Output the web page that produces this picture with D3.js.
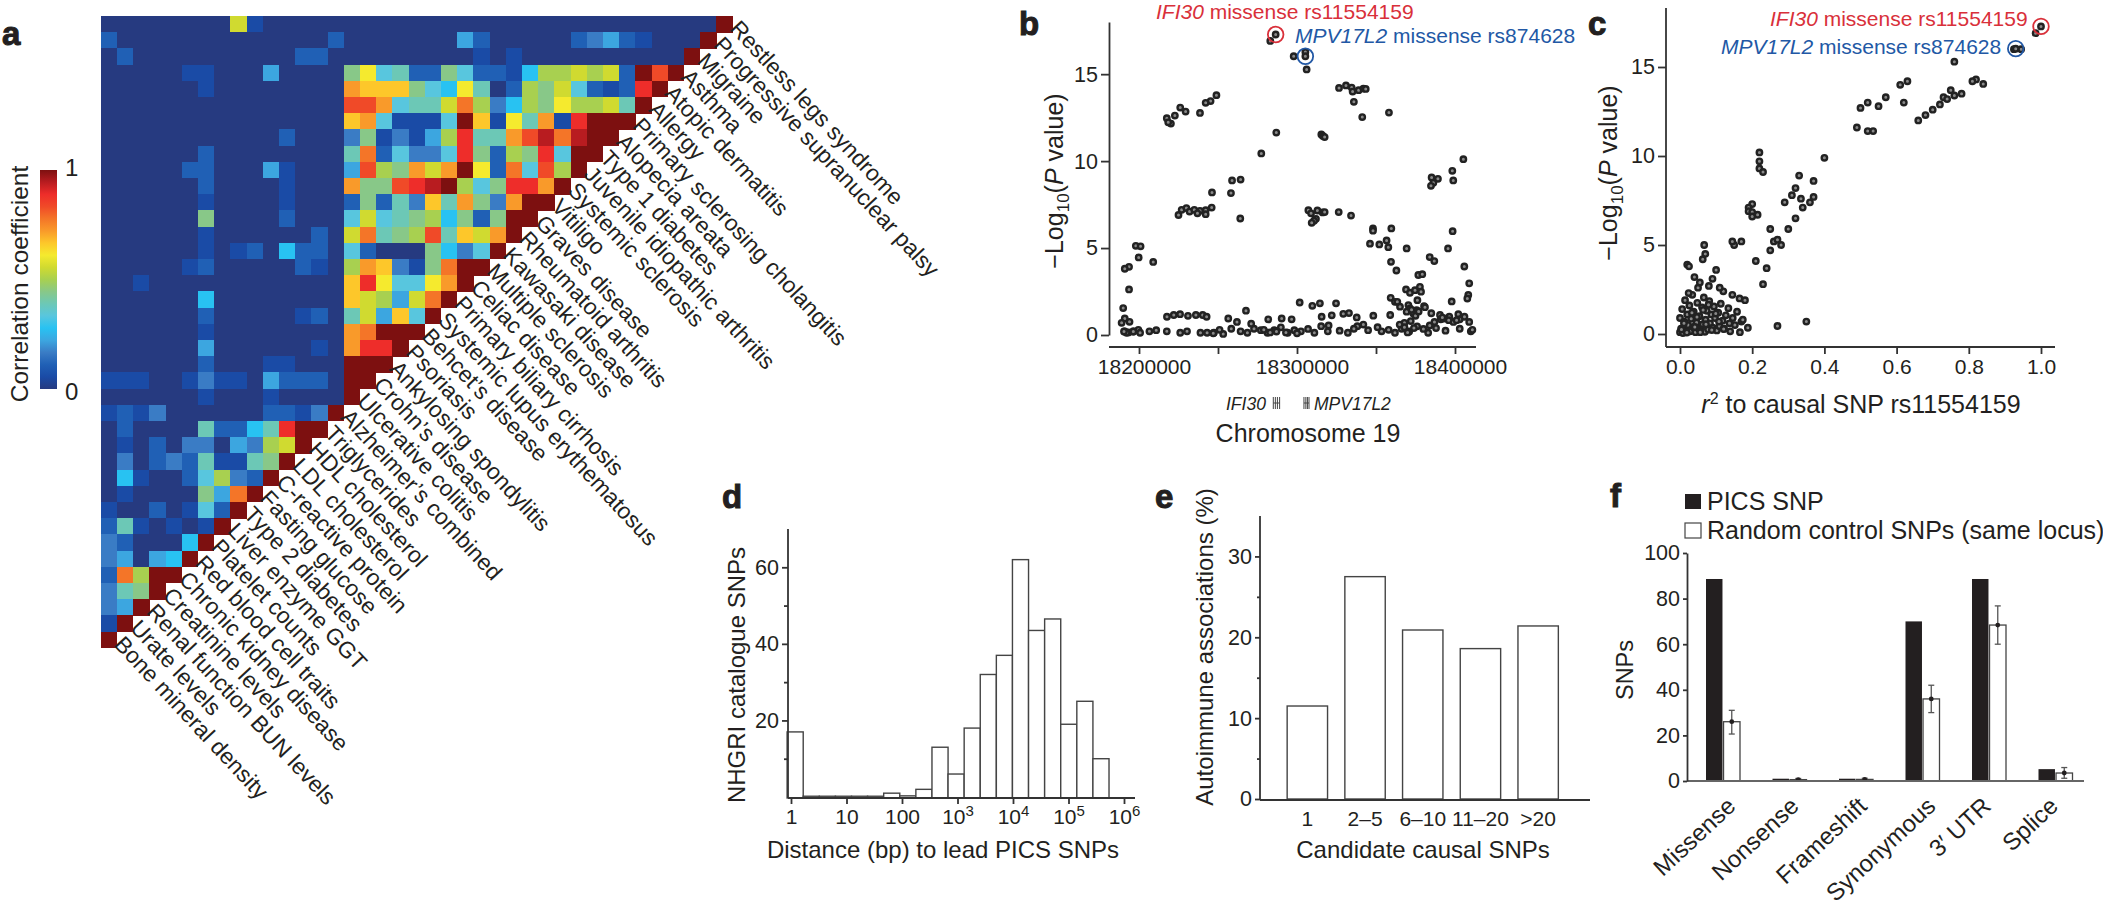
<!DOCTYPE html>
<html>
<head>
<meta charset="utf-8">
<script src="https://cdn.jsdelivr.net/npm/d3@7"></script>
<style>
  body { margin: 0; background: #fff; }
  text { font-family: "Liberation Sans", Arial, sans-serif; fill: #231f20; }
  .domain, .tick line { stroke: #333; }
</style>
</head>
<body>
<div id="chart"></div>
<script>
(function(d3) {
  'use strict';

  // panel a, one string per row, one base-19 digit per cell (0 = navy, i = dark red)
  var diseases = ['Restless legs syndrome', 'Progressive supranuclear palsy', 'Migraine', 'Asthma',
    'Atopic dermatitis', 'Allergy', 'Primary sclerosing cholangitis', 'Alopecia areata', 'Type 1 diabetes',
    'Juvenile idiopathic arthritis', 'Systemic sclerosis', 'Vitiligo', 'Graves disease', 'Rheumatoid arthritis',
    'Kawasaki disease', 'Multiple sclerosis', 'Celiac disease', 'Primary biliary cirrhosis',
    'Systemic lupus erythematosus', 'Behcet\u2019s disease', 'Psoriasis', 'Ankylosing spondylitis',
    'Crohn\u2019s disease', 'Ulcerative colitis', 'Alzheimer\u2019s combined', 'Triglycerides', 'HDL cholesterol',
    'LDL cholesterol', 'C-reactive protein', 'Fasting glucose', 'Type 2 diabetes', 'Liver enzyme GGT',
    'Platelet counts', 'Red blood cell traits', 'Chronic kidney disease', 'Creatinine levels',
    'Renal function BUN levels', 'Urate levels', 'Bone mineral density'];

  var corrRows = [
    '00000000a10000000000000000000000000000i',
    '2000000000000020000000420000023421000i',
    '020000000000220000000001010000000000i',
    '000001100040000' + '8b672286221599a9a2ifi',
    '000000100000000' + 'dccc865b70298a6212gi',
    '000000000000000' + 'ffd677ae93598b99a7i',
    '000000000000000' + 'cd61116ic1b7d1giii',
    '000000000002000' + '3813149g77dfhehii',
    '000000200000000' + '7e26336g8298g6ii',
    '000002200041000' + '4f98dadib2e6f9i',
    '000000200001000' + 'd88fghi968ggdi',
    '000000100001000' + '28273c7d83dii',
    '000000800002000' + '6a67895828ii',
    '000000100000020' + 'ae789f7cadi',
    '000000101205220' + '620008536i',
    '000001200000210' + '9dc318eii',
    '001000000000000' + 'cgb66bdi',
    '000000500000000' + 'ca94aei',
    '000000200000120' + '7a4c6i',
    '000000100000000' + 'deiii',
    '000000400000010' + 'dggi',
    '000000200011000' + 'iii',
    '111001311042220' + 'ii',
    '000000100010000' + 'i',
    '12130000002213i',
    '02000072257gii',
    '01020330439ai',
    '03023271178i',
    '0510026932i',
    '01000084ei',
    '10020162i',
    '2710101i',
    '320005i',
    '34045i',
    '2e9ii',
    '378i',
    '34i',
    '1i',
    'i'
  ];
  var corrPalette = ['#263a80', '#1a4ba6', '#2060b5', '#3a7cc5', '#3ca6e0', '#28c2f2', '#58c6de', '#6cc8b6',
    '#88c888', '#a8d050', '#d0da30', '#f5ea2e', '#fdc72a', '#f99a2a', '#f47528', '#f04a28', '#ee2d2a',
    '#b81c20', '#7d1010'];

  // panel b, position in kb on chromosome 19 and -log10 P
  var bPos = [18283.1,18297.9,18305.3,18306.1,18326.6,18331,18334.6,18335.2,18339,18342,18343.5,18336,18341.3,18358.2,
    18249,18245.3,18242.2,18238.6,18226.1,18229.5,18217.6,18220.2,18222.7,18218.5,18286.9,18315.4,18316.4,18317.5,
    18277.4,18405.3,18398.3,18398.9,18385.2,18389.2,18386.3,18384.8,18258.9,18264.3,18246.2,18258.2,18246,18242.2,
    18238.6,18242.2,18264.1,18225,18227,18230,18232,18235,18237,18307.2,18308.9,18312.9,18316.2,18317.5,18326.4,
    18334.2,18312,18310.8,18309.3,18348.1,18348.1,18359.7,18398.5,18395.6,18346.2,18352.1,18356.7,18357.8,18369.4,
    18384,18386.9,18359.5,18362.9,18405.9,18409,18376.8,18379.3,18369,18371.5,18374.7,18377.8,18378.5,18408.4,
    18407.8,18359.3,18397.9,18362,18363.5,18365.2,18376.2,18380.4,18370.5,18371.5,18375.7,18369.4,18373.6,18301.7,
    18309.7,18314.5,18324.7,18267.7,18329.3,18332.9,18322,18315.6,18337.8,18348.3,18359,18402.1,18390.5,18396.4,
    18240.3,18242.8,18256.5,18281.8,18290.3,18296.6,18198,18199.8,18193.7,18191,18193.7,18190,18191,18194,18191,
    18193.3,18196.4,18199.6,18201,18209,18217.7,18222,18226,18231,18236,18192.2,18196.4,18200.7,18206.6,18210.9,
    18217.6,18226.1,18230.4,18238.9,18243.1,18247.4,18253.3,18258.4,18264.3,18268.6,18272.8,18277.1,18281.3,18285.6,
    18289.8,18294.1,18298.3,18302.5,18311,18315.3,18319.5,18332.2,18338.2,18345,18353.5,18362,18366.2,18383,18387,
    18391,18393,18399,18403,18409,18396,18403,18410,18336,18342,18351,18358,18371,18376,18380,18384,18372,18368,
    18365,18374,18262,18271,18279,18293,18307,18320,18327,18368,18370,18372.5,18375,18377,18381,18385,18388,18392,
    18394,18401,18406,18411,18189,18190.5,18247,18251,18283,18287,18300];
  var bLogP = [16.91,16.03,16.28,15.27,14.21,14.35,14.23,14,14.08,14.17,14.15,13.41,12.53,12.79,13.79,13.45,13.35,12.77,
    13.08,12.85,12.47,12.16,12.62,12.23,11.64,11.53,11.45,11.38,10.44,10.11,9.44,8.89,9.06,8.98,8.75,8.58,8.89,8.94,
    8.2,8.16,7.33,7.18,7.14,6.95,6.7,6.9,7.2,7.3,7.1,7.2,7,7.18,7,7.16,7.05,7.07,7.07,6.87,6.68,6.57,6.45,6.13,6,6.13,
    5.97,4.98,5.25,5.21,5.44,5.05,4.98,4.48,4.25,4.21,3.71,3.94,2.97,3.45,3.5,2.62,2.43,2.58,2.77,2.49,2.3,2.1,2.14,
    1.93,1.91,1.91,1.63,2,1.66,1.72,1.53,1.43,1.34,1.24,1.87,1.68,1.82,1.82,1.4,1.22,1.26,1.13,1.05,1.01,1.11,1.15,
    1.2,1.15,1.05,1.15,1.05,.95,.9,.95,.9,5.13,4.46,3.92,3.81,2.62,1.55,.95,.76,.2,.15,.2,.3,5.1,4.2,1.05,1.15,1.2,1.1,
    1.15,.13,.2,.13,.21,.28,.21,.13,.21,.13,.13,.13,.06,.36,.21,.13,.36,.28,.13,.28,.44,.13,.28,.21,.13,.51,.21,.13,
    .51,.28,.21,.13,.36,.13,.75,.9,.95,.75,.9,.75,.85,.36,.21,.36,.6,.45,.3,.2,.5,.35,.55,.8,.7,.6,.4,.75,.65,.3,.15,.35,
    .55,.25,.45,.15,1.45,1.1,1.35,1.6,1.25,.4,1,.25,.85,1.05,.3,.7,.2,.1,.3,.15,.2,.1,.2,.1];

  // highlighted SNPs in panels b and c
  var ifi30Pos = 18286.5, ifi30LogP = 17.28, ifi30R2 = 1.0;
  var mpvPos = 18305.3, mpvLogP = 16.03, mpvR2 = 0.93;
  var ifi30Exons = [18285, 18286.3, 18287.6, 18289];
  var mpvExons = [18304.4, 18305.6, 18306.6, 18307.6];

  // panel c, r2 to causal SNP and -log10 P
  var cR2 = [.985,.925,.945,.76,.82,.81,.84,.75,.76,.78,.73,.74,.72,.7,.68,.66,.63,.61,.62,.57,.52,.5,.55,.49,.52,.535,
    .22,.22,.22,.23,.2,.19,.19,.2,.2,.215,.25,.26,.27,.28,.25,.24,.21,.23,.17,.15,.145,.4,.37,.33,.29,.32,.34,.36,.31,
    .335,.37,.3,.32,.35,.27,.17,.02,.025,.05,.067,.07,.063,.04,.055,.1,.08,.12,.09,.145,.11,.165,.18,
    0,0,.003,.006,.008,.012,.014,.017,.02,.022,.026,.028,.031,.034,.037,.038,.043,.046,.048,.052,.054,.057,.061,.063,.066,
    .069,.071,.074,.078,.081,.083,.087,.091,.094,.097,.102,.106,.109,.113,.118,.122,.127,.134,.139,.146,.152,.158,.166,.174,.188,
    .004,.011,.019,.024,.033,.041,.047,.056,.064,.072,.079,.088,.099,.108,.121,.137];
  var cLogP = [16.9,16,16,15.3,14.3,14.2,14.05,13.7,13.4,13.5,13.3,13.2,12.9,12.6,12.3,12,14.2,14,13,13.3,13,12.7,12.8,
    11.6,11.4,11.4,10.2,9.7,9.3,9.1,7.3,7.1,6.9,6.85,6.6,6.7,5.9,5.2,5.3,5,4.7,3.7,4.1,2.8,5.2,5,5.2,9.9,8.6,8.9,7.4,8.2,
    7.1,7.4,7.8,7.6,7.7,5.9,6.5,.7,.45,.7,3.9,3.8,2.6,5,4.5,4.2,3.2,2.9,3.6,2.7,2.4,3.1,2.2,2.6,2,1.9,
    .1,.9,.3,1.4,.05,.7,1.9,.2,1.1,.5,1.6,.15,.85,2.2,.4,1.25,.1,.65,1.75,.3,1,.2,1.5,.55,2.05,
    .12,.8,1.3,.25,1.85,.6,1.1,.35,1.55,.9,.2,1.2,.45,1.7,.75,.3,1.05,1.45,.15,.9,.5,1.25,.1,.8,.35,
    .25,.6,.08,2.3,1.2,.4,.95,.1,1.35,.55,1.65,.22,1.15,.7,.28,.6];

  // panel d
  var distCounts = [17,.2,.2,.2,.2,.2,1,.3,2,13,6,18,32,37,62,43.5,46.5,19,25,10];
  var distTicks = [1, 10, 100, 1000, 10000, 100000, 1000000];
  var distTickBase = ['1', '10', '100', '10', '10', '10', '10'];
  var distTickSup = ['', '', '', '3', '4', '5', '6'];

  // panel e
  var causalBins = ['1', '2\u20135', '6\u201310', '11\u201320', '>20'];
  var autoimmunePct = [11.5, 27.5, 20.9, 18.6, 21.4];

  // panel f
  var snpClasses = ['Missense', 'Nonsense', 'Frameshift', 'Synonymous', '3\u2032 UTR', 'Splice'];
  var picsValues = [88.6, 1, 1, 70, 88.6, 5.2];
  var controlValues = [26, 0.6, 0.7, 36, 68.4, 3.5];
  var controlLow = [20.6, 0.2, 0.3, 30, 60, 1.2];
  var controlHigh = [31, 1.1, 1.2, 42, 76.8, 5.9];

  var svg = d3.select('#chart').append('svg')
    .attr('width', 2103)
    .attr('height', 907);

  var titleSize = 25;
  var tickSize = 21.5;
  var lineColor = '#333';

  function panelLetter(t, x, y) {
    svg.append('text').attr('x', x).attr('y', y).text(t)
      .style('font-size', '33px').style('font-weight', 'bold')
      .style('stroke', '#231f20').style('stroke-width', 1);
  }
  panelLetter('a', 2, 45);
  panelLetter('b', 1019, 35);
  panelLetter('c', 1588, 35);
  panelLetter('d', 722, 508);
  panelLetter('e', 1155, 508);
  panelLetter('f', 1610, 507);

  function plainText(parent, x, y, str, anchor, size) {
    return parent.append('text').attr('x', x).attr('y', y)
      .attr('text-anchor', anchor || 'middle')
      .style('font-size', (size || titleSize) + 'px')
      .text(str);
  }

  function verticalTitle(x, y, str, size) {
    return svg.append('text')
      .attr('transform', 'translate(' + x + ',' + y + ') rotate(-90)')
      .attr('text-anchor', 'middle')
      .style('font-size', (size || titleSize) + 'px')
      .text(str);
  }

  // -log10(P value) vertical title
  function logPTitle(x, y) {
    var t = verticalTitle(x, y, '');
    t.append('tspan').text('\u2212Log');
    t.append('tspan').attr('dy', 6).style('font-size', '17px').text('10');
    t.append('tspan').attr('dy', -6).text('(');
    t.append('tspan').style('font-style', 'italic').text('P');
    t.append('tspan').text(' value)');
  }

  function styleAxis(g) {
    g.selectAll('.domain').style('stroke', lineColor).style('stroke-width', 1.8);
    g.selectAll('.tick line').style('stroke', lineColor).style('stroke-width', 1.8);
    g.selectAll('text').style('font-size', tickSize + 'px').style('fill', '#231f20');
  }

  function minorAxis(axisFn, scale, values, size, x, y) {
    var g = svg.append('g').attr('transform', 'translate(' + x + ',' + y + ')');
    g.call(axisFn(scale).tickValues(values).tickSize(size).tickFormat(''));
    g.select('.domain').remove();
    g.selectAll('.tick line').style('stroke', lineColor).style('stroke-width', 1.8);
    return g;
  }

  // ---- panel a
  var cellIdx = d3.range(39);
  var xCell = d3.scaleBand().domain(cellIdx).range([100.7, 732.5]);
  var yCell = d3.scaleBand().domain(cellIdx).range([16, 647.8]);
  var corrColor = d3.scaleLinear()
    .domain(corrPalette.map(function(c, i) { return i / 18; }))
    .range(corrPalette);

  var heat = svg.append('g').attr('shape-rendering', 'crispEdges');
  corrRows.forEach(function(row, r) {
    row.split('').forEach(function(ch, c) {
      heat.append('rect')
        .attr('x', xCell(c))
        .attr('y', yCell(r))
        .attr('width', xCell.bandwidth() + 0.3)
        .attr('height', yCell.bandwidth() + 0.3)
        .attr('fill', corrColor(parseInt(ch, 19) / 18));
    });
  });

  svg.append('g').selectAll('text')
    .data(diseases)
    .enter().append('text')
    .attr('transform', function(d, r) {
      var x = xCell(38 - r) + xCell.bandwidth() + 2;
      var y = yCell(r) + yCell.bandwidth() / 2;
      return 'translate(' + x + ',' + y + ') rotate(47)';
    })
    .attr('dy', '0.35em')
    .style('font-size', '22.8px')
    .text(function(d) { return d; });

  // colour bar
  var barScale = d3.scaleLinear().domain([0, 1]).range([389, 170]);
  var grad = svg.append('defs').append('linearGradient')
    .attr('id', 'corr-grad').attr('x1', 0).attr('x2', 0).attr('y1', 1).attr('y2', 0);
  corrPalette.forEach(function(c, i) {
    grad.append('stop').attr('offset', i / 18).attr('stop-color', c);
  });
  svg.append('rect')
    .attr('x', 40).attr('y', barScale(1))
    .attr('width', 17).attr('height', barScale(0) - barScale(1))
    .attr('fill', 'url(#corr-grad)');
  plainText(svg, 65, barScale(1) + 6, '1', 'start', 24);
  plainText(svg, 65, barScale(0) + 11, '0', 'start', 24);
  verticalTitle(28, 284, 'Correlation coefficient', 24.5);

  // ---- panel b
  var bx = d3.scaleLinear().domain([18200, 18400]).range([1139, 1455]);
  var by = d3.scaleLinear().domain([0, 18]).range([335, 22]);

  var bxAxis = svg.append('g').attr('transform', 'translate(0,347)')
    .call(d3.axisBottom(bx).tickValues([18200, 18300, 18400]).tickSize(7).tickSizeOuter(0)
      .tickFormat(function(d) { return d * 1000; }));
  styleAxis(bxAxis);
  bxAxis.select('.domain').attr('d', 'M1109,0H1476');
  bxAxis.selectAll('text').attr('dx', 5).attr('dy', '0.8em').style('font-size', '21px');
  minorAxis(d3.axisBottom, bx, [18250, 18350], 7, 0, 347);

  var byAxis = svg.append('g').attr('transform', 'translate(1109,0)')
    .call(d3.axisLeft(by).tickValues([0, 5, 10, 15]).tickSize(8).tickSizeOuter(0));
  styleAxis(byAxis);

  svg.append('g').selectAll('circle')
    .data(bPos)
    .enter().append('circle')
    .attr('cx', function(d) { return bx(d); })
    .attr('cy', function(d, i) { return by(bLogP[i]); })
    .attr('r', 2.7)
    .attr('fill', '#8a8a8a')
    .attr('stroke', '#222')
    .attr('stroke-width', 2.4);

  function highlight(xs, ys, color) {
    svg.append('circle').attr('cx', xs).attr('cy', ys).attr('r', 2.7)
      .attr('fill', '#8a8a8a').attr('stroke', '#222').attr('stroke-width', 2.4);
    svg.append('circle').attr('cx', xs).attr('cy', ys).attr('r', 7.8)
      .attr('fill', 'none').attr('stroke', color).attr('stroke-width', 1.8);
  }
  var redColor = '#d9303a', blueColor = '#2258a5';
  highlight(bx(ifi30Pos), by(ifi30LogP), redColor);
  highlight(bx(mpvPos), by(mpvLogP), blueColor);

  function snpLabel(x, y, gene, rest, color) {
    var t = svg.append('text').attr('x', x).attr('y', y)
      .style('font-size', '21px');
    t.append('tspan').style('font-style', 'italic').style('fill', color).text(gene);
    t.append('tspan').style('fill', color).text(rest);
  }
  snpLabel(1156, 19, 'IFI30', ' missense rs11554159', redColor);
  snpLabel(1295, 43, 'MPV17L2', ' missense rs874628', blueColor);
  logPTitle(1063, 181);

  // gene track
  function exons(values) {
    svg.append('g').selectAll('line').data(values).enter().append('line')
      .attr('x1', function(d) { return bx(d); })
      .attr('x2', function(d) { return bx(d); })
      .attr('y1', 397).attr('y2', 409)
      .attr('stroke', '#444').attr('stroke-width', 1);
    svg.append('line')
      .attr('x1', bx(values[0])).attr('x2', bx(values[values.length - 1]))
      .attr('y1', 403).attr('y2', 403)
      .attr('stroke', '#444').attr('stroke-width', 1);
  }
  exons(ifi30Exons);
  exons(mpvExons);
  plainText(svg, 1226, 410, 'IFI30', 'start', 17.5).style('font-style', 'italic');
  plainText(svg, 1314, 410, 'MPV17L2', 'start', 17.5).style('font-style', 'italic');
  plainText(svg, 1308, 442, 'Chromosome 19');

  // ---- panel c
  var cx = d3.scaleLinear().domain([0, 1]).range([1680, 2041]);
  var cy = d3.scaleLinear().domain([0, 15]).range([334, 67]);

  var cxAxis = svg.append('g').attr('transform', 'translate(0,347)')
    .call(d3.axisBottom(cx).tickValues([0, .2, .4, .6, .8, 1]).tickSize(7).tickSizeOuter(0)
      .tickFormat(d3.format('.1f')));
  styleAxis(cxAxis);
  cxAxis.select('.domain').attr('d', 'M1666,0H2055');
  cxAxis.selectAll('text').attr('dy', '0.8em').style('font-size', '21px');

  var cyAxis = svg.append('g').attr('transform', 'translate(1666,0)')
    .call(d3.axisLeft(cy).tickValues([0, 5, 10, 15]).tickSize(8).tickSizeOuter(0));
  styleAxis(cyAxis);
  cyAxis.select('.domain').attr('d', 'M0,347V8');

  svg.append('g').selectAll('circle')
    .data(cR2)
    .enter().append('circle')
    .attr('cx', function(d) { return cx(d); })
    .attr('cy', function(d, i) { return cy(cLogP[i]); })
    .attr('r', 2.7)
    .attr('fill', '#8a8a8a')
    .attr('stroke', '#222')
    .attr('stroke-width', 2.4);
  highlight(cx(ifi30R2), cy(ifi30LogP), redColor);
  highlight(cx(mpvR2), cy(mpvLogP), blueColor);
  snpLabel(1770, 26, 'IFI30', ' missense rs11554159', redColor);
  snpLabel(1721, 54, 'MPV17L2', ' missense rs874628', blueColor);
  logPTitle(1617, 173);

  var cTitle = plainText(svg, 1861, 413, '');
  cTitle.append('tspan').style('font-style', 'italic').text('r');
  cTitle.append('tspan').attr('dy', -9).style('font-size', '16px').text('2');
  cTitle.append('tspan').attr('dy', 9).text(' to causal SNP rs11554159');

  // ---- panel d
  var dx = d3.scaleLog().domain([1, 1e6]).range([791, 1124]);
  var dy = d3.scaleLinear().domain([0, 70]).range([797, 529]);
  var binWidth = 0.29, binStart = -0.07;

  svg.append('g').selectAll('rect')
    .data(distCounts)
    .enter().append('rect')
    .attr('x', function(d, i) { return dx(Math.pow(10, binStart + i * binWidth)); })
    .attr('y', function(d) { return dy(d); })
    .attr('width', function(d, i) {
      return dx(Math.pow(10, binStart + (i + 1) * binWidth)) - dx(Math.pow(10, binStart + i * binWidth));
    })
    .attr('height', function(d) { return dy(0) - dy(d) + 1; })
    .attr('fill', '#fff')
    .attr('stroke', '#444')
    .attr('stroke-width', 1.4);

  var dxAxis = svg.append('g').attr('transform', 'translate(0,798)')
    .call(d3.axisBottom(dx).tickValues(distTicks).tickSize(6).tickSizeOuter(0).tickFormat(''));
  styleAxis(dxAxis);
  dxAxis.select('.domain').attr('d', 'M788,0H1135');
  dxAxis.selectAll('.tick').each(function(d, i) {
    var t = d3.select(this).select('text');
    t.attr('y', 26).attr('dy', 0).text(distTickBase[i]).style('font-size', '21px');
    if (distTickSup[i]) {
      t.append('tspan').attr('dy', -8).style('font-size', '15px').text(distTickSup[i]);
    }
  });

  var dyAxis = svg.append('g').attr('transform', 'translate(788,0)')
    .call(d3.axisLeft(dy).tickValues([20, 40, 60]).tickSize(6).tickSizeOuter(0));
  styleAxis(dyAxis);
  dyAxis.select('.domain').attr('d', 'M0,798V529');
  minorAxis(d3.axisLeft, dy, [10, 30, 50], 4, 788, 0);

  verticalTitle(745, 675, 'NHGRI catalogue SNPs', 24);
  plainText(svg, 943, 858, 'Distance (bp) to lead PICS SNPs', 'middle', 24);

  // ---- panel e
  var ex = d3.scaleBand().domain(causalBins).range([1278.5, 1567]).paddingInner(0.3).paddingOuter(0.15);
  var ey = d3.scaleLinear().domain([0, 35]).range([799, 516]);

  svg.append('g').selectAll('rect')
    .data(autoimmunePct)
    .enter().append('rect')
    .attr('x', function(d, i) { return ex(causalBins[i]); })
    .attr('y', function(d) { return ey(d); })
    .attr('width', ex.bandwidth())
    .attr('height', function(d) { return ey(0) - ey(d); })
    .attr('fill', '#fff')
    .attr('stroke', '#444')
    .attr('stroke-width', 1.4);

  var exAxis = svg.append('g').attr('transform', 'translate(0,800)')
    .call(d3.axisBottom(ex).tickSize(0).tickSizeOuter(0));
  styleAxis(exAxis);
  exAxis.select('.domain').attr('d', 'M1260,0H1590');
  exAxis.selectAll('text').attr('y', 26).attr('dy', 0).style('font-size', '21px');

  var eyAxis = svg.append('g').attr('transform', 'translate(1260,0)')
    .call(d3.axisLeft(ey).tickValues([0, 10, 20, 30]).tickSize(5).tickSizeOuter(0));
  styleAxis(eyAxis);
  eyAxis.select('.domain').attr('d', 'M0,800V516');
  minorAxis(d3.axisLeft, ey, [5, 15, 25], 3, 1260, 0);

  verticalTitle(1213, 647, 'Autoimmune associations (%)', 24);
  plainText(svg, 1423, 858, 'Candidate causal SNPs', 'middle', 24);

  // ---- panel f
  var fx = d3.scaleBand().domain(snpClasses).range([1689.75, 2088.75]);
  var fSeries = d3.scaleBand().domain(['pics', 'control']).range([-17, 17]).paddingInner(0.06);
  var fy = d3.scaleLinear().domain([0, 100]).range([781, 553]);
  var fLabelShift = [14, 10.8, 12.5, 14.5, 3.4, 4];
  function fCentre(i) { return fx(snpClasses[i]) + fx.bandwidth() / 2; }

  svg.append('g').selectAll('rect')
    .data(picsValues)
    .enter().append('rect')
    .attr('x', function(d, i) { return fCentre(i) + fSeries('pics'); })
    .attr('y', function(d) { return fy(d); })
    .attr('width', fSeries.bandwidth())
    .attr('height', function(d) { return fy(0) - fy(d); })
    .attr('fill', '#231f20');

  svg.append('g').selectAll('rect')
    .data(controlValues)
    .enter().append('rect')
    .attr('x', function(d, i) { return fCentre(i) + fSeries('control'); })
    .attr('y', function(d) { return fy(d); })
    .attr('width', fSeries.bandwidth())
    .attr('height', function(d) { return fy(0) - fy(d); })
    .attr('fill', '#fff')
    .attr('stroke', '#444')
    .attr('stroke-width', 1.3);

  var errors = svg.append('g').selectAll('g')
    .data(controlValues)
    .enter().append('g')
    .attr('transform', function(d, i) {
      return 'translate(' + (fCentre(i) + fSeries('control') + fSeries.bandwidth() / 2) + ',0)';
    });
  errors.append('line')
    .attr('y1', function(d, i) { return fy(controlLow[i]); })
    .attr('y2', function(d, i) { return fy(controlHigh[i]); })
    .attr('stroke', '#555').attr('stroke-width', 1.3);
  [controlLow, controlHigh].forEach(function(arr) {
    errors.append('line')
      .attr('x1', -3).attr('x2', 3)
      .attr('y1', function(d, i) { return fy(arr[i]); })
      .attr('y2', function(d, i) { return fy(arr[i]); })
      .attr('stroke', '#555').attr('stroke-width', 1.3);
  });
  errors.append('circle')
    .attr('cy', function(d) { return fy(d); })
    .attr('r', 2.4)
    .attr('fill', '#231f20');

  var fxAxis = svg.append('g').attr('transform', 'translate(0,781)')
    .call(d3.axisBottom(fx).tickSize(0).tickSizeOuter(0));
  styleAxis(fxAxis);
  fxAxis.select('.domain').attr('d', 'M1687,0H2084').style('stroke', '#666');
  fxAxis.selectAll('text')
    .attr('text-anchor', 'end')
    .attr('dy', 0)
    .attr('y', 0)
    .attr('transform', function(d, i) { return 'translate(' + fLabelShift[i] + ',27) rotate(-43)'; })
    .style('font-size', '24px');

  var fyAxis = svg.append('g').attr('transform', 'translate(1687,0)')
    .call(d3.axisLeft(fy).tickValues([0, 20, 40, 60, 80, 100]).tickSize(4).tickSizeOuter(0));
  styleAxis(fyAxis);

  verticalTitle(1633, 670, 'SNPs', 23.5);

  svg.append('rect').attr('x', 1685).attr('y', 494).attr('width', 16).attr('height', 15).attr('fill', '#231f20');
  svg.append('rect').attr('x', 1685).attr('y', 523).attr('width', 16).attr('height', 15)
    .attr('fill', '#fff').attr('stroke', '#444').attr('stroke-width', 1.2);
  plainText(svg, 1707, 510, 'PICS SNP', 'start', 25);
  plainText(svg, 1707, 539, 'Random control SNPs (same locus)', 'start', 25);
})(window.d3);
</script>
</body>
</html>
